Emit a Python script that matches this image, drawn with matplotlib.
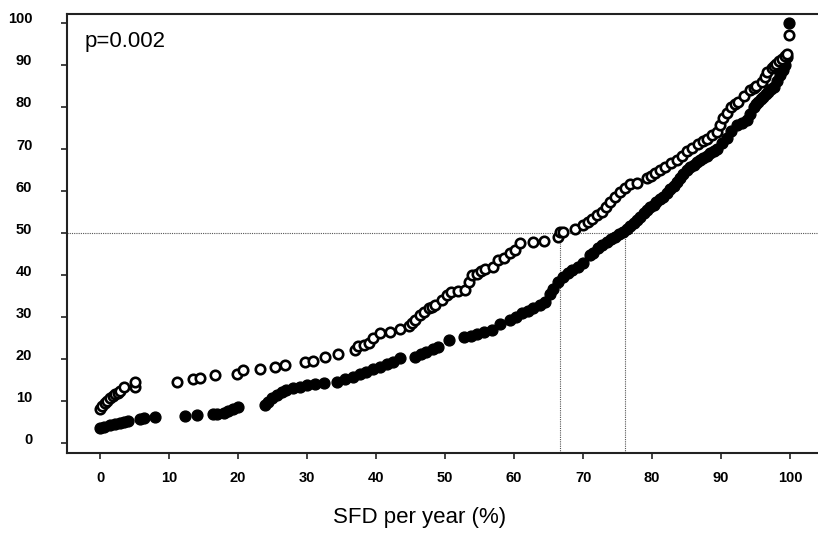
import matplotlib
matplotlib.use("Agg")
import matplotlib.pyplot as plt
import matplotlib.transforms as mtransforms

plt.rcParams['font.family'] = ['Liberation Sans', 'DejaVu Sans']

# Open circles (upper series)
x_open = [0, 0.3, 0.7, 1.0, 1.45, 1.8, 2.2, 2.6, 2.9, 3.4, 5.1, 5.1, 11.1, 13.5, 14.5, 16.7,
          19.8, 20.7, 23.2, 25.4, 26.8, 29.7, 30.9, 32.6, 34.5, 37.0, 37.4, 38.2, 38.9, 39.6,
          40.6, 42.0, 43.5, 44.7, 45.2, 45.7, 46.4, 47.0, 47.6, 48.1, 48.6, 49.5, 50.2, 50.9, 51.9,
          52.9, 53.4, 53.9, 54.6, 55.2, 55.8, 57.0, 57.7, 58.5, 59.4, 60.1, 60.9, 62.8, 64.3,
          66.4, 66.7, 67.1, 68.8, 70.0, 70.7, 71.3, 72.0, 72.7, 73.3, 73.9, 74.6, 75.4, 76.1, 76.8,
          77.8, 79.2, 79.8, 80.4, 81.2, 81.9, 82.8, 83.6, 84.3, 85.0, 85.8, 86.6, 87.3, 88.0, 88.7,
          89.4, 89.9, 90.3, 90.9, 91.5, 92.0, 92.5, 93.3, 94.2, 94.7, 95.1, 95.9, 96.3, 96.6, 97.3,
          97.7, 98.0, 98.4, 98.8, 99.2, 99.5, 99.8]
y_open = [8.3, 8.8, 9.5, 10.2, 10.8, 11.2, 11.7, 12.1, 12.5, 13.3, 13.5, 14.6, 14.6, 15.3, 15.6, 16.2,
          16.6, 17.4, 17.6, 18.2, 18.6, 19.3, 19.6, 20.5, 21.2, 22.2, 23.2, 23.5, 23.8, 25.0,
          26.2, 26.5, 27.1, 27.9, 28.6, 29.3, 30.5, 31.2, 32.1, 32.5, 32.9, 34.1, 35.3, 36.0, 36.3,
          36.4, 38.4, 40.0, 40.4, 40.9, 41.4, 42.0, 43.6, 44.2, 45.2, 46.0, 47.7, 47.9, 48.2,
          49.1, 50.2, 50.3, 51.1, 51.9, 52.6, 53.3, 54.2, 55.1, 56.3, 57.4, 58.6, 59.8, 60.8, 61.8,
          62.0, 63.0, 63.6, 64.2, 65.0, 65.8, 66.6, 67.4, 68.4, 69.5, 70.3, 71.1, 71.8, 72.5, 73.3,
          74.1, 75.8, 77.3, 78.6, 80.0, 80.6, 81.2, 82.6, 84.0, 84.5, 85.0, 86.0, 87.2, 88.4, 89.2,
          89.8, 90.3, 90.9, 91.5, 92.1, 92.7, 97.1]

# Filled circles (lower series)
x_filled = [0, 0.5, 1.4, 2.2, 2.9, 3.5, 4.1, 5.8, 6.4, 8.0, 12.3, 14.0, 16.4, 17.0, 17.9,
            18.6, 19.3, 20.0, 23.9, 24.4, 24.9, 25.6, 26.3, 27.0, 28.0, 29.0, 30.0, 31.2,
            32.4, 34.3, 35.5, 36.7, 37.6, 38.6, 39.6, 40.6, 41.6, 42.5, 43.5, 45.7, 46.5,
            47.3, 48.2, 49.0, 50.5, 52.7, 53.7, 54.6, 55.7, 56.8, 58.0, 59.4, 60.3, 61.1,
            62.0, 62.8, 63.8, 64.5, 65.2, 65.7, 66.4, 67.1, 67.8, 68.4, 69.2, 70.0, 71.0,
            71.5, 72.2, 72.8, 73.4, 74.0, 74.6, 75.2, 75.8, 76.3, 76.8, 77.3, 77.8, 78.3, 78.8,
            79.2, 79.7, 80.2, 80.6, 81.1, 81.6, 82.1, 82.6, 83.1, 83.6, 84.0, 84.5, 85.0, 85.5,
            86.0, 86.5, 87.0, 87.4, 87.9, 88.4, 88.9, 89.4, 90.1, 90.8, 91.5, 92.3, 93.0, 93.7,
            94.2, 94.7, 95.0, 95.4, 95.8, 96.1, 96.5, 96.8, 97.2, 97.6, 98.1, 98.6, 99.0, 99.3,
            99.5, 99.8]
y_filled = [3.6, 4.0, 4.3, 4.6, 4.9, 5.2, 5.4, 5.9, 6.0, 6.2, 6.5, 6.7, 7.0, 7.0, 7.3,
            7.7, 8.1, 8.6, 9.1, 9.9, 10.7, 11.5, 12.3, 12.7, 13.1, 13.5, 13.9, 14.1,
            14.3, 14.6, 15.2, 15.8, 16.4, 17.0, 17.6, 18.2, 18.8, 19.4, 20.2, 20.6, 21.2,
            21.8, 22.4, 23.0, 24.7, 25.2, 25.6, 26.0, 26.5, 26.9, 28.5, 29.3, 30.1, 30.9,
            31.5, 32.1, 33.0, 33.7, 35.6, 36.8, 38.4, 39.6, 40.6, 41.2, 42.0, 42.8, 44.8,
            45.2, 46.5, 47.2, 47.9, 48.6, 49.2, 49.8, 50.3, 51.0, 51.8, 52.4, 53.1, 53.9, 54.7,
            55.5, 56.3, 56.8, 57.4, 58.0, 58.6, 59.5, 60.4, 61.3, 62.2, 63.1, 64.0, 64.9, 65.8,
            66.3, 66.8, 67.3, 67.8, 68.4, 69.0, 69.6, 70.1, 71.5, 72.7, 74.2, 75.7, 76.3, 76.9,
            78.4, 80.0, 80.6, 81.2, 81.8, 82.4, 83.0, 83.6, 84.2, 84.8, 86.2, 87.6, 88.8, 90.0,
            91.9, 100.0]

x_ticks = [0, 10, 20, 30, 40, 50, 60, 70, 80, 90, 100]
y_ticks = [0, 10, 20, 30, 40, 50, 60, 70, 80, 90, 100]
median_level = 50
median_open = 66.7
median_filled = 76.0

fig = plt.figure(figsize=(8.18, 5.33), dpi=100)
ax = fig.add_axes([0.0819, 0.1507, 0.922, 0.823])
ax.set_xlim(-4.8, 104.5)
ax.set_ylim(-2.2, 102.1)

# median reference lines
ax.axhline(median_level, color='#555555', lw=0.8, ls=(0, (1, 1)), zorder=1)
for xm in (median_open, median_filled):
    ax.plot([xm, xm], [-2.2, median_level], color='#555555', lw=0.8, ls=(0, (1, 1)), zorder=1)

ax.plot(x_filled, y_filled, 'o', ms=7.8, mfc='black', mec='black', mew=1.0, ls='none', zorder=3)
ax.plot(x_open, y_open, 'o', ms=6.8, mfc='white', mec='black', mew=1.9, ls='none', zorder=4)

for s in ['left', 'bottom', 'top']:
    ax.spines[s].set_linewidth(1.5)
    ax.spines[s].set_color('#222222')
ax.spines['right'].set_visible(False)

ax.set_xticks(x_ticks)
ax.set_yticks(y_ticks)
ax.set_xticklabels([str(v) for v in x_ticks], fontweight='bold', fontsize=10.5)
ax.set_yticklabels([str(v) for v in y_ticks], fontweight='bold', fontsize=10.5)
ax.tick_params(axis='both', direction='out', length=4, width=1.2, color='#222222')
ax.tick_params(axis='x', pad=9)
ax.tick_params(axis='y', pad=21)

offset = mtransforms.ScaledTranslation(0, 5 / 100, fig.dpi_scale_trans)
for lab in ax.get_yticklabels():
    lab.set_transform(lab.get_transform() + offset)

fig.text(85 / 818, 1 - 41 / 533, 'p=0.002', fontsize=16, ha='left', va='center')
fig.text(420 / 818, 1 - 518 / 533, 'SFD per year (%)', fontsize=16, ha='center', va='center')

fig.savefig('out.png', dpi=100)
